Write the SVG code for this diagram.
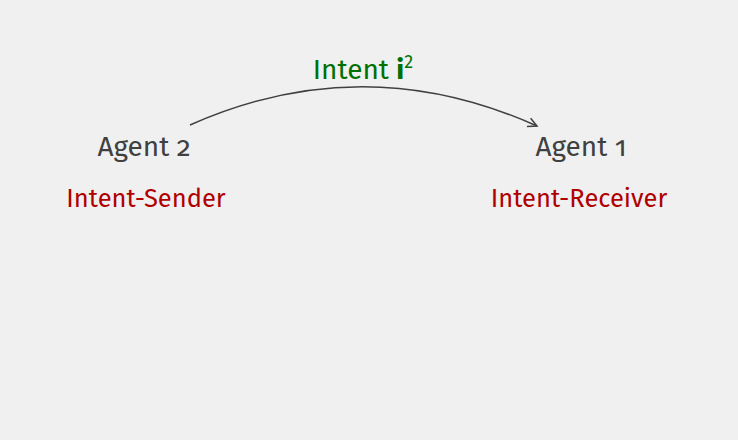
<svg xmlns="http://www.w3.org/2000/svg" width="738" height="440" viewBox="0 0 738 440">
<style>
text{font-family:"Fira Sans","Noto Sans","Open Sans",sans-serif}
.agent{font-size:28px;fill:#404040;font-variant-numeric:oldstyle-nums;font-feature-settings:"onum" 1}
.role{font-size:25.5px;fill:#b00000}
.lbl{font-size:28px;fill:#007000}
</style>
<defs>
<marker id="arr" markerWidth="12" markerHeight="12" refX="10" refY="6" orient="auto" markerUnits="userSpaceOnUse">
<path d="M1,1.5 L10,6 L1,10.5" fill="none" stroke="#404040" stroke-width="1.5"/>
</marker>
</defs>
<rect width="738" height="440" fill="#f0f0f0"/>
<g id="connectors">
<path d="M190,125 Q363,48 537,126" fill="none" stroke="#404040" stroke-width="1.5" marker-end="url(#arr)"/>
<text class="lbl" x="363" y="79" text-anchor="middle">Intent <tspan font-weight="bold">i</tspan><tspan font-size="18" dy="-11">2</tspan></text>
</g>
<g id="agent2">
<text class="agent" x="144" y="156" text-anchor="middle">Agent 2</text>
<text class="role" x="146" y="207" text-anchor="middle">Intent-Sender</text>
</g>
<g id="agent1">
<text class="agent" x="581" y="156" text-anchor="middle">Agent 1</text>
<text class="role" x="579" y="207" text-anchor="middle">Intent-Receiver</text>
</g>
</svg>
